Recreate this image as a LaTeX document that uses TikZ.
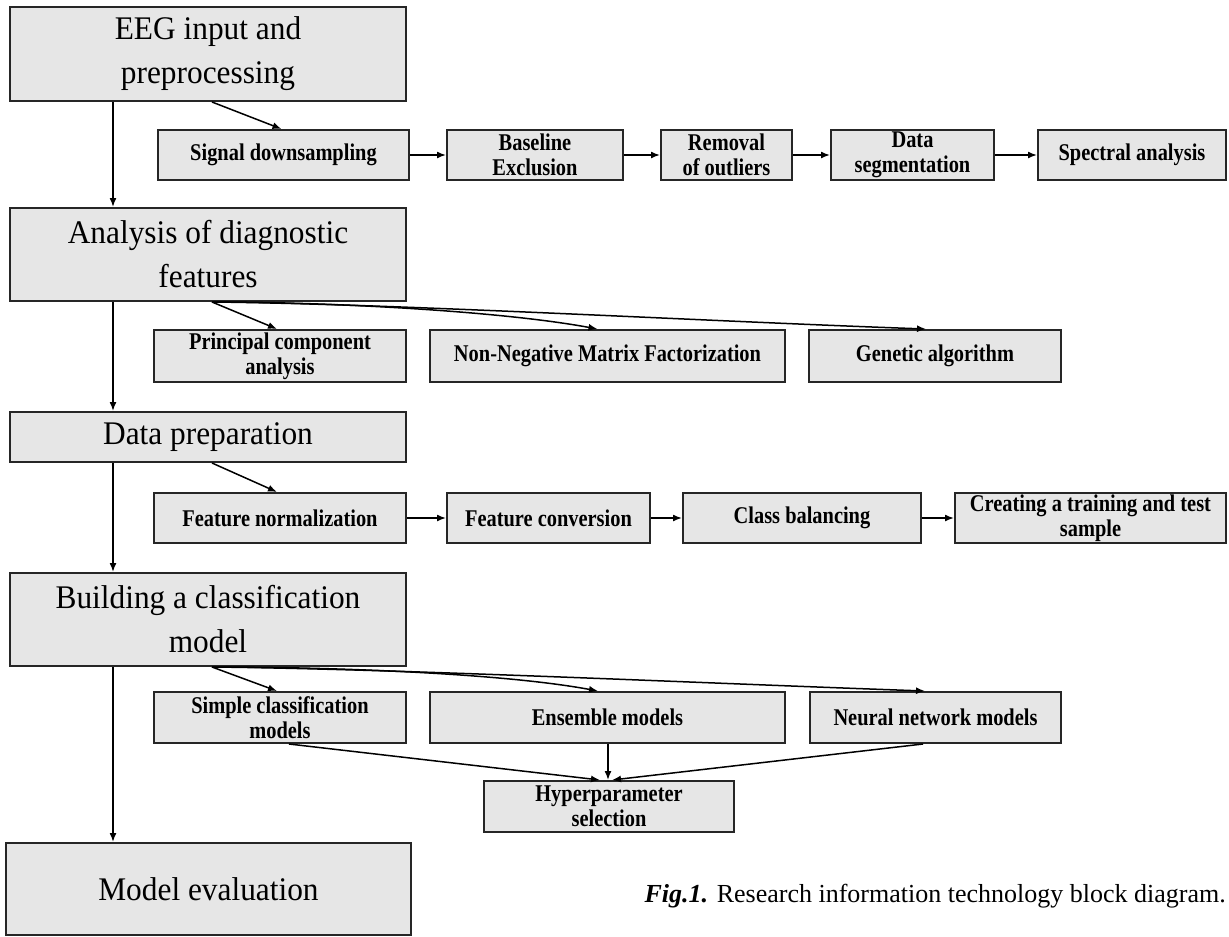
\documentclass[tikz,border=0pt]{standalone}
\usepackage{fontspec}
\setmainfont{Liberation Serif}
\newfontfamily\subfnt[FakeStretch=0.85]{Liberation Serif}
\newfontfamily\mainfnt[FakeStretch=0.95]{Liberation Serif}
\usetikzlibrary{arrows.meta}
\definecolor{boxfill}{HTML}{E6E6E6}
\definecolor{boxline}{HTML}{262626}
\tikzset{
 mainbox/.style={draw=boxline, fill=boxfill, line width=2pt, inner sep=0pt, align=center, font=\mainfnt\fontsize{33}{44}\selectfont},
 subbox/.style={draw=boxline, fill=boxfill, line width=2pt, inner sep=0pt, align=center, font=\subfnt\bfseries\fontsize{24}{25}\selectfont},
 conn/.style={draw=black, line width=1.5pt, -{Latex[length=9pt,width=7pt]}},
}
\begin{document}
\begin{tikzpicture}[x=1pt,y=-1pt]
\useasboundingbox (0,0) rectangle (1229,937);
\fill[white] (0,0) rectangle (1229,937);
% main column
\node[mainbox, minimum width=396pt, minimum height=94pt] (eeg) at (208,54) {EEG input and\\preprocessing};
\node[mainbox, minimum width=396pt, minimum height=93pt] (ana) at (208,254.5) {Analysis of diagnostic\\features};
\node[mainbox, minimum width=396pt, minimum height=50pt] (dp) at (208,437) {Data preparation};
\node[mainbox, minimum width=396pt, minimum height=93pt] (bcm) at (208,619.5) {Building a classification\\model};
\node[mainbox, minimum width=405pt, minimum height=92pt] (me) at (208.5,889) {Model evaluation};
% row 1
\node[subbox, minimum width=251pt, minimum height=50pt] (sd) at (283.5,155) {Signal downsampling};
\node[subbox, minimum width=176pt, minimum height=50pt] (be) at (535,155) {Baseline\\Exclusion};
\node[subbox, minimum width=131pt, minimum height=50pt] (ro) at (726.5,155) {Removal\\of outliers};
\node[subbox, minimum width=163pt, minimum height=50pt] (ds) at (912.5,155) {Data\\segmentation};
\node[subbox, minimum width=188pt, minimum height=50pt] (sa) at (1132,155) {Spectral analysis};
% row 2
\node[subbox, minimum width=252pt, minimum height=52pt] (pca) at (280,356) {Principal component\\analysis};
\node[subbox, minimum width=355pt, minimum height=52pt] (nmf) at (607.5,356) {Non-Negative Matrix Factorization};
\node[subbox, minimum width=252pt, minimum height=52pt] (ga) at (935,356) {Genetic algorithm};
% row 3
\node[subbox, minimum width=252pt, minimum height=50pt] (fn) at (280,518) {Feature normalization};
\node[subbox, minimum width=203pt, minimum height=50pt] (fc) at (548.5,518) {Feature conversion};
\node[subbox, minimum width=238pt, minimum height=50pt] (cb) at (802,518) {Class balancing};
\node[subbox, minimum width=271pt, minimum height=50pt] (ct) at (1090.5,518) {Creating a training and test\\sample};
% row 4
\node[subbox, minimum width=252pt, minimum height=51pt] (scm) at (280,717.5) {Simple classification\\models};
\node[subbox, minimum width=355pt, minimum height=51pt] (ens) at (607.5,717.5) {Ensemble models};
\node[subbox, minimum width=251pt, minimum height=51pt] (nn) at (935.5,717.5) {Neural network models};
\node[subbox, minimum width=250pt, minimum height=51pt] (hp) at (609,806.5) {Hyperparameter\\selection};
% caption
\node[anchor=base east, inner sep=0pt, font=\fontsize{26}{30}\selectfont] (cap) at (1226,902) {\textbf{\textit{Fig.1.}} Research information technology block diagram.};
% main vertical arrows
\draw[conn] ([xshift=-95pt]eeg.south) -- ([xshift=-95pt]ana.north);
\draw[conn] ([xshift=-95pt]ana.south) -- ([xshift=-95pt]dp.north);
\draw[conn] ([xshift=-95pt]dp.south) -- ([xshift=-95pt]bcm.north);
\draw[conn] ([xshift=-95pt]bcm.south) -- ([xshift=-95.5pt]me.north);
% row 1
\draw[conn] ([xshift=4pt]eeg.south) -- ([xshift=-2pt]sd.north);
\draw[conn] (sd.east) -- (be.west);
\draw[conn] (be.east) -- (ro.west);
\draw[conn] (ro.east) -- (ds.west);
\draw[conn] (ds.east) -- (sa.west);
% row 2
\draw[conn] ([xshift=4pt]ana.south) -- ([xshift=-3pt]pca.north);
\draw[conn] ([xshift=4pt]ana.south) .. controls +(118,0) and +(-97,-18) .. ([xshift=-10pt]nmf.north);
\draw[conn] ([xshift=4pt]ana.south) .. controls +(188,2) and +(-226,-8) .. ([xshift=-9pt]ga.north);
% row 3
\draw[conn] ([xshift=4pt]dp.south) -- ([xshift=-3pt]fn.north);
\draw[conn] (fn.east) -- (fc.west);
\draw[conn] (fc.east) -- (cb.west);
\draw[conn] (cb.east) -- (ct.west);
% row 4
\draw[conn] ([xshift=4pt]bcm.south) -- ([xshift=-3pt]scm.north);
\draw[conn] ([xshift=4pt]bcm.south) .. controls +(118,0) and +(-97,-18) .. ([xshift=-9.5pt]ens.north);
\draw[conn] ([xshift=4pt]bcm.south) .. controls +(188,2) and +(-226,-8) .. ([xshift=-10.5pt]nn.north);
\draw[conn] ([xshift=9pt]scm.south) -- ([xshift=-9pt]hp.north);
\draw[conn] ([xshift=0.5pt]ens.south) -- ([xshift=-1pt]hp.north);
\draw[conn] ([xshift=-12.5pt]nn.south) -- ([xshift=3pt]hp.north);
\end{tikzpicture}
\end{document}
